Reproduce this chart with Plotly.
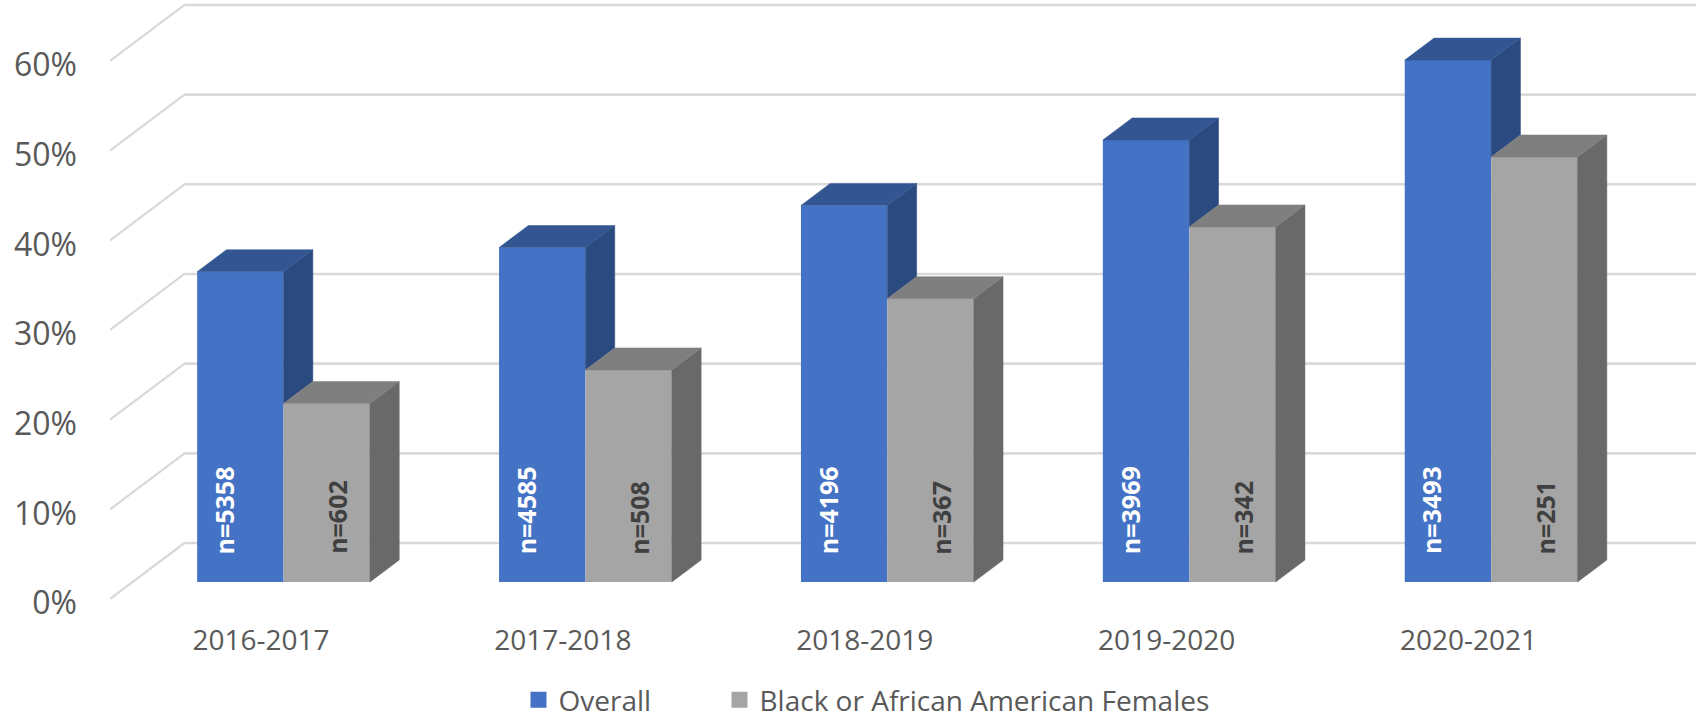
import plotly.graph_objects as go

categories = ["2016-2017", "2017-2018", "2018-2019", "2019-2020", "2020-2021"]
overall = [34.6, 37.3, 42.0, 49.3, 58.2]
black_females = [19.9, 23.65, 31.6, 39.6, 47.4]
overall_n = [5358, 4585, 4196, 3969, 3493]
black_n = [602, 508, 367, 342, 251]
y_ticks = [0, 10, 20, 30, 40, 50, 60]

BLUE, BLUE_TOP, BLUE_SIDE = "#4472C4", "#335693", "#2B4A80"
GREY, GREY_TOP, GREY_SIDE = "#A5A5A5", "#7F7F7F", "#696969"
GRID = "#D9D9D9"
TEXT = "#595959"
FONT = "Open Sans"

W, H = 1696, 718
L, B = 110, 119
X_UNIT = 301.9            # px per category
Y_UNIT = 8.967            # px per percent
WALL_DX, WALL_DY = 74.5 / X_UNIT, 56 / Y_UNIT     # depth of the floor
BAR_DX, BAR_DY = 29.3 / X_UNIT, 22 / Y_UNIT       # depth of a bar
SHIFT_X, LIFT = 22.6 / X_UNIT, 17 / Y_UNIT        # bar front plane inside the floor
BAR_W = 86.4 / X_UNIT

x_range = [-0.5, -0.5 + (W - L) / X_UNIT]
y_range = [0, (H - B) / Y_UNIT]

fig = go.Figure()

# front faces
xs = [i + SHIFT_X for i in range(len(categories))]
fig.add_trace(go.Bar(x=xs, y=overall, base=LIFT, width=BAR_W, offset=-BAR_W,
                     marker=dict(color=BLUE, line=dict(width=0)), showlegend=False, name="Overall"))
fig.add_trace(go.Bar(x=xs, y=black_females, base=LIFT, width=BAR_W, offset=0,
                     marker=dict(color=GREY, line=dict(width=0)), showlegend=False,
                     name="Black or African American Females"))


def polys(rows, color):
    px, py = [], []
    for row in rows:
        for (a, b) in row:
            px.append(a)
            py.append(b)
        px.append(row[0][0])
        py.append(row[0][1])
        px.append(None)
        py.append(None)
    fig.add_trace(go.Scatter(x=px, y=py, mode="lines", fill="toself", fillcolor=color,
                             line=dict(width=0.5, color=color), hoverinfo="skip", showlegend=False))


blue_side, blue_top, grey_side, grey_top = [], [], [], []
for x, a, b in zip(xs, overall, black_females):
    x1, x2, x3 = x - BAR_W, x, x + BAR_W
    ta, tb = a + LIFT, b + LIFT
    blue_top.append([(x1, ta), (x1 + BAR_DX, ta + BAR_DY), (x2 + BAR_DX, ta + BAR_DY), (x2, ta)])
    blue_side.append([(x2, ta), (x2 + BAR_DX, ta + BAR_DY), (x2 + BAR_DX, tb + BAR_DY), (x2, tb)])
    grey_top.append([(x2, tb), (x2 + BAR_DX, tb + BAR_DY), (x3 + BAR_DX, tb + BAR_DY), (x3, tb)])
    grey_side.append([(x3, tb), (x3 + BAR_DX, tb + BAR_DY), (x3 + BAR_DX, LIFT + BAR_DY), (x3, LIFT)])
polys(blue_side, BLUE_SIDE)
polys(blue_top, BLUE_TOP)
polys(grey_side, GREY_SIDE)
polys(grey_top, GREY_TOP)

# legend keys, one legend each so both keys sit exactly where the reference has them
for name, color, lg in [("Overall", BLUE, "legend"), ("Black or African American Females", GREY, "legend2")]:
    fig.add_trace(go.Scatter(x=[None], y=[None], mode="markers", name=name, legend=lg,
                             marker=dict(symbol="square", size=16, color=color)))

# wall and floor gridlines
shapes = []
for t in y_ticks:
    shapes.append(dict(type="line", layer="below", xref="x", yref="y", x0=-0.5, y0=t,
                       x1=-0.5 + WALL_DX, y1=t + WALL_DY, line=dict(color=GRID, width=2.2)))
    shapes.append(dict(type="line", layer="below", xref="x", yref="y", x0=-0.5 + WALL_DX, y0=t + WALL_DY,
                       x1=x_range[1], y1=t + WALL_DY, line=dict(color=GRID, width=2.6)))

# n labels
LABEL_Y = 4.76
annotations = []
for x, n1, n2 in zip(xs, overall_n, black_n):
    annotations.append(dict(x=x - 59.4 / X_UNIT, y=LABEL_Y, xref="x", yref="y", text=f"<b>n={n1}</b>",
                            textangle=-90, showarrow=False, xanchor="center", yanchor="bottom",
                            font=dict(family=FONT, size=25, color="white")))
    annotations.append(dict(x=x + 54 / X_UNIT, y=LABEL_Y, xref="x", yref="y", text=f"<b>n={n2}</b>",
                            textangle=-90, showarrow=False, xanchor="center", yanchor="bottom",
                            font=dict(family=FONT, size=25, color="#404040")))

legend_common = dict(orientation="h", xref="container", yref="container", y=0.025, xanchor="left",
                     yanchor="middle", font=dict(family=FONT, size=28, color=TEXT), itemwidth=30,
                     bgcolor="rgba(0,0,0,0)")

fig.update_layout(
    width=W, height=H, autosize=False,
    margin=dict(l=L, r=0, t=0, b=B, pad=0),
    paper_bgcolor="white", plot_bgcolor="white",
    barmode="overlay",
    shapes=shapes, annotations=annotations,
    font=dict(family=FONT, color=TEXT),
    xaxis=dict(range=x_range, tickvals=list(range(len(categories))), ticktext=categories,
               showgrid=False, zeroline=False, showline=False, ticks="",
               ticklabelstandoff=22, tickfont=dict(family=FONT, size=28, color=TEXT)),
    yaxis=dict(range=y_range, tickvals=y_ticks, ticktext=[f"{t}%" for t in y_ticks],
               showgrid=False, zeroline=False, showline=False, ticks="",
               ticklabelstandoff=32, ticklabelshift=4, tickfont=dict(family=FONT, size=32, color=TEXT)),
    legend=dict(x=518.5 / W, **legend_common),
    legend2=dict(x=719.5 / W, **legend_common),
)

fig.write_html("out.html", config={"displayModeBar": False},
               post_script="document.body.style.margin='0';")
